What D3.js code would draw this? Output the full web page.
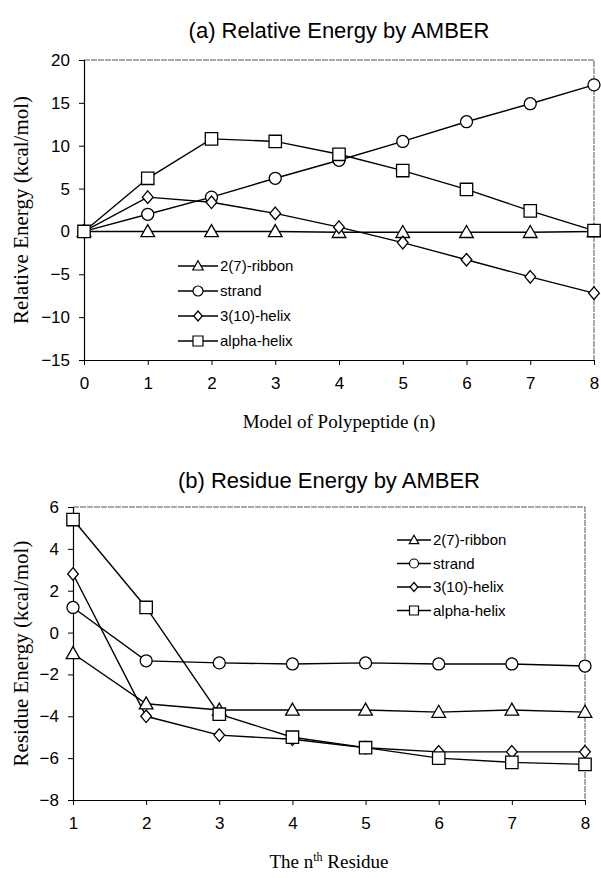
<!DOCTYPE html>
<html>
<head>
<meta charset="utf-8">
<script src="https://cdn.jsdelivr.net/npm/d3@7"></script>
<style>
  body { margin: 0; background: #fff; }
  svg { display: block; }
  .tick text { font-family: "Liberation Sans", Arial, sans-serif; }
</style>
</head>
<body>
<div id="chart"></div>
<script>
// series names, same order in both panels
const seriesNames = ['2(7)-ribbon', 'strand', '3(10)-helix', 'alpha-helix'];
const markerKinds = ['triangle', 'circle', 'diamond', 'square'];

// (a) relative energy vs model size n
const modelN = [0, 1, 2, 3, 4, 5, 6, 7, 8];
const relRibbon = [0, 0, 0, 0, -0.1, -0.1, -0.1, -0.1, 0];
const relStrand = [0, 2.0, 4.0, 6.2, 8.3, 10.5, 12.8, 14.9, 17.1];
const relHelix310 = [0, 4.0, 3.4, 2.1, 0.5, -1.3, -3.3, -5.3, -7.2];
const relAlpha = [0, 6.2, 10.8, 10.5, 9.0, 7.1, 4.9, 2.4, 0.1];
const relTicks = [-15, -10, -5, 0, 5, 10, 15, 20];

// (b) residue energy vs residue index
const residueN = [1, 2, 3, 4, 5, 6, 7, 8];
const resRibbon = [-1.0, -3.4, -3.7, -3.7, -3.7, -3.8, -3.7, -3.8];
const resStrand = [1.2, -1.35, -1.45, -1.5, -1.45, -1.5, -1.5, -1.6];
const resHelix310 = [2.8, -4.0, -4.9, -5.1, -5.5, -5.7, -5.7, -5.7];
const resAlpha = [5.4, 1.2, -3.9, -5.0, -5.5, -6.0, -6.2, -6.3];
const resTicks = [-8, -6, -4, -2, 0, 2, 4, 6];

const W = 601, H = 878;
const svg = d3.select('#chart').append('svg').attr('width', W).attr('height', H);

// hand-made open marker shapes, s = half size
function markerPath(kind, s) {
  if (kind === 'circle') {
    const p = d3.path(); p.arc(0, 0, s, 0, 2 * Math.PI); return p.toString();
  }
  if (kind === 'square') return `M${-s},${-s}H${s}V${s}H${-s}Z`;
  if (kind === 'diamond') return `M0,${-s}L${s * 0.85},0L0,${s}L${-s * 0.85},0Z`;
  // triangle
  return `M0,${-s * 1.05}L${s * 1.05},${s * 0.8}L${-s * 1.05},${s * 0.8}Z`;
}
const markerSize = { triangle: 6.5, circle: 6, diamond: 6.3, square: 6.2 };

function drawPanel(cfg) {
  const g = svg.append('g');
  const x = d3.scaleLinear().domain(cfg.xDomain).range([cfg.left, cfg.right]);
  const y = d3.scaleLinear().domain(cfg.yDomain).range([cfg.bottom, cfg.top]);

  // title
  g.append('text')
    .attr('x', (cfg.left + cfg.right) / 2).attr('y', cfg.titleY)
    .attr('text-anchor', 'middle')
    .style('font-family', '"Liberation Sans", Arial, sans-serif')
    .style('font-size', '22px')
    .text(cfg.title);

  // frame: top and right, lighter like the scan
  g.append('path')
    .attr('d', `M${cfg.left},${cfg.top}H${cfg.right}V${cfg.bottom}`)
    .attr('fill', 'none').attr('stroke', '#555').attr('stroke-width', 1)
    .attr('stroke-dasharray', '6,1');

  const xAxis = g.append('g')
    .attr('transform', `translate(0,${cfg.bottom})`)
    .call(d3.axisBottom(x).tickValues(cfg.xValues).tickSize(5).tickPadding(12).tickFormat(d3.format('d')));
  const yAxis = g.append('g')
    .attr('transform', `translate(${cfg.left},0)`)
    .call(d3.axisLeft(y).tickValues(cfg.yTicks).tickSize(5).tickPadding(9).tickFormat(d3.format('d')));
  [xAxis, yAxis].forEach(a => {
    a.select('.domain').attr('stroke', '#000').attr('stroke-width', 1.2);
    a.selectAll('.tick line').attr('stroke', '#000');
    a.selectAll('.tick text').style('font-size', '17px').attr('fill', '#000');
  });
  // d3 domain path has outer ticks; redraw plain line
  xAxis.select('.domain').attr('d', `M${cfg.left},0.5H${cfg.right}`);
  yAxis.select('.domain').attr('d', `M0.5,${cfg.top}V${cfg.bottom}`);

  // axis titles (serif like the figure)
  const xt = g.append('text')
    .attr('x', (cfg.left + cfg.right) / 2).attr('y', cfg.xTitleY)
    .attr('text-anchor', 'middle')
    .style('font-family', '"Liberation Serif", "Times New Roman", serif')
    .style('font-size', '19px');
  cfg.xTitle.forEach(part => {
    const t = xt.append('tspan').text(part.text);
    if (part.sup) t.attr('baseline-shift', '55%').style('font-size', '12px');
  });

  const cy = (cfg.top + cfg.bottom) / 2;
  g.append('text')
    .attr('transform', `translate(${cfg.yTitleX},${cy}) rotate(-90)`)
    .attr('text-anchor', 'middle')
    .style('font-family', '"Liberation Serif", "Times New Roman", serif')
    .style('font-size', '21px')
    .text(cfg.yTitle);

  const line = d3.line().x(d => x(d[0])).y(d => y(d[1]));

  cfg.series.forEach((vals, i) => {
    const pts = cfg.xValues.map((xv, k) => [xv, vals[k]]);
    g.append('path').datum(pts)
      .attr('d', line).attr('fill', 'none')
      .attr('stroke', '#000').attr('stroke-width', 1.4);
  });
  cfg.series.forEach((vals, i) => {
    const kind = markerKinds[i];
    g.selectAll(null).data(cfg.xValues.map((xv, k) => [xv, vals[k]]))
      .enter().append('path')
      .attr('transform', d => `translate(${x(d[0])},${y(d[1])})`)
      .attr('d', markerPath(kind, markerSize[kind]))
      .attr('fill', '#fff').attr('stroke', '#000').attr('stroke-width', 1.3);
  });

  // legend
  const lg = g.append('g');
  seriesNames.forEach((name, i) => {
    const ly = cfg.legend.y + i * cfg.legend.dy;
    lg.append('line')
      .attr('x1', cfg.legend.x).attr('x2', cfg.legend.x + cfg.legend.len)
      .attr('y1', ly).attr('y2', ly)
      .attr('stroke', '#000').attr('stroke-width', 1.4);
    lg.append('path')
      .attr('transform', `translate(${cfg.legend.x + cfg.legend.len / 2},${ly})`)
      .attr('d', markerPath(markerKinds[i], cfg.legend.ms))
      .attr('fill', '#fff').attr('stroke', '#000').attr('stroke-width', 1.2);
    lg.append('text')
      .attr('x', cfg.legend.x + cfg.legend.len + 2).attr('y', ly)
      .attr('dy', '0.35em')
      .style('font-family', '"Liberation Sans", Arial, sans-serif')
      .style('font-size', '15px')
      .text(name);
  });
}

drawPanel({
  title: '(a) Relative Energy by AMBER', titleY: 38,
  left: 84, right: 594, top: 60, bottom: 360,
  xDomain: [0, 8], yDomain: [-15, 20],
  xValues: modelN, yTicks: relTicks,
  series: [relRibbon, relStrand, relHelix310, relAlpha],
  xTitle: [{ text: 'Model of Polypeptide (n)' }], xTitleY: 428,
  yTitle: 'Relative Energy (kcal/mol)', yTitleX: 28,
  legend: { x: 178, len: 40, y: 266, dy: 25, ms: 5 }
});

drawPanel({
  title: '(b) Residue Energy by AMBER', titleY: 488,
  left: 73, right: 585, top: 507, bottom: 800,
  xDomain: [1, 8], yDomain: [-8, 6],
  xValues: residueN, yTicks: resTicks,
  series: [resRibbon, resStrand, resHelix310, resAlpha],
  xTitle: [{ text: 'The n' }, { text: 'th', sup: true }, { text: ' Residue' }], xTitleY: 868,
  yTitle: 'Residue Energy (kcal/mol)', yTitleX: 28,
  legend: { x: 397, len: 34, y: 540, dy: 23.5, ms: 4.5 }
});
</script>
</body>
</html>
